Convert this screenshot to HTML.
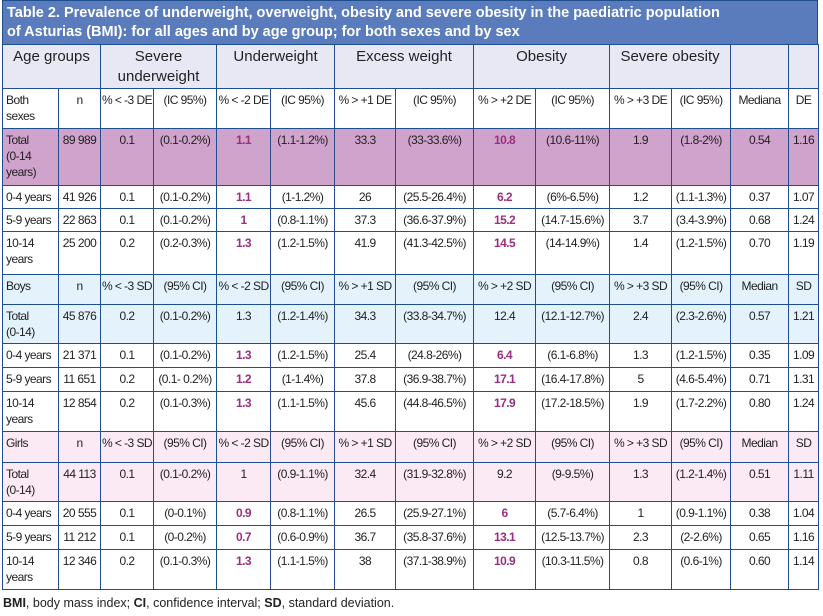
<!DOCTYPE html>
<html><head><meta charset="utf-8"><style>
body{margin:0;background:#fff;width:823px;height:616px;position:relative;font-family:"Liberation Sans","DejaVu Sans",sans-serif;overflow:hidden}
.title{position:absolute;left:2px;top:0;height:44px;background:#5a7cbc;color:#fff;font-weight:bold;font-size:14.5px;line-height:19px;padding:3px 0 0 4px;border:1px solid #1f4e8c;border-bottom:none;box-sizing:border-box;width:816px}
table{position:absolute;left:2px;top:44px;width:816px;border-collapse:collapse;table-layout:fixed;font-size:12px;letter-spacing:-0.55px;color:#222}
td{border:1.5px solid #1f4e8c;text-align:center;vertical-align:top;padding:3px 0 0 0;line-height:16px;overflow:hidden;white-space:nowrap}
td.l{text-align:left;padding-left:3px}
tr.h td{background:#e8e8f5;font-size:15px;letter-spacing:0;line-height:20px;padding-top:2px}
.b{color:#9b2f7f;font-weight:bold}
tr.t td{background:#cfa3cb}
tr.boy td{background:#e4f2fb}
tr.girl td{background:#fbe9f4}
.foot{position:absolute;left:3px;top:596px;font-size:12.5px;color:#222}
</style></head><body>
<div class="title">Table 2. Prevalence of underweight, overweight, obesity and severe obesity in the paediatric population<br>of Asturias (BMI): for all ages and by age group; for both sexes and by sex</div>
<table>
<colgroup><col style="width:56px"><col style="width:42px"><col style="width:53px"><col style="width:63px"><col style="width:54px"><col style="width:64px"><col style="width:61px"><col style="width:78px"><col style="width:62px"><col style="width:74px"><col style="width:62px"><col style="width:59px"><col style="width:58px"><col style="width:30px"></colgroup>
<tr class="h" style="height:44px"><td colspan="2">Age groups</td><td colspan="2">Severe<br>underweight</td><td colspan="2">Underweight</td><td colspan="2">Excess weight</td><td colspan="2">Obesity</td><td colspan="2">Severe obesity</td><td></td><td></td></tr>
<tr style="height:40px"><td class="l">Both<br>sexes</td><td>n</td><td>% &lt; -3 DE</td><td>(IC 95%)</td><td>% &lt; -2 DE</td><td>(IC 95%)</td><td>% &gt; +1 DE</td><td>(IC 95%)</td><td>% &gt; +2 DE</td><td>(IC 95%)</td><td>% &gt; +3 DE</td><td>(IC 95%)</td><td>Mediana</td><td>DE</td></tr>
<tr class="t" style="height:57px"><td class="l">Total<br>(0-14<br>years)</td><td>89 989</td><td>0.1</td><td>(0.1-0.2%)</td><td class="b">1.1</td><td>(1.1-1.2%)</td><td>33.3</td><td>(33-33.6%)</td><td class="b">10.8</td><td>(10.6-11%)</td><td>1.9</td><td>(1.8-2%)</td><td>0.54</td><td>1.16</td></tr>
<tr style="height:23px"><td class="l">0-4 years</td><td>41 926</td><td>0.1</td><td>(0.1-0.2%)</td><td class="b">1.1</td><td>(1-1.2%)</td><td>26</td><td>(25.5-26.4%)</td><td class="b">6.2</td><td>(6%-6.5%)</td><td>1.2</td><td>(1.1-1.3%)</td><td>0.37</td><td>1.07</td></tr>
<tr style="height:23px"><td class="l">5-9 years</td><td>22 863</td><td>0.1</td><td>(0.1-0.2%)</td><td class="b">1</td><td>(0.8-1.1%)</td><td>37.3</td><td>(36.6-37.9%)</td><td class="b">15.2</td><td>(14.7-15.6%)</td><td>3.7</td><td>(3.4-3.9%)</td><td>0.68</td><td>1.24</td></tr>
<tr style="height:43px"><td class="l">10-14<br>years</td><td>25 200</td><td>0.2</td><td>(0.2-0.3%)</td><td class="b">1.3</td><td>(1.2-1.5%)</td><td>41.9</td><td>(41.3-42.5%)</td><td class="b">14.5</td><td>(14-14.9%)</td><td>1.4</td><td>(1.2-1.5%)</td><td>0.70</td><td>1.19</td></tr>
<tr class="boy" style="height:30px"><td class="l">Boys</td><td>n</td><td>% &lt; -3 SD</td><td>(95% CI)</td><td>% &lt; -2 SD</td><td>(95% CI)</td><td>% &gt; +1 SD</td><td>(95% CI)</td><td>% &gt; +2 SD</td><td>(95% CI)</td><td>% &gt; +3 SD</td><td>(95% CI)</td><td>Median</td><td>SD</td></tr>
<tr class="boy" style="height:39px"><td class="l">Total<br>(0-14)</td><td>45 876</td><td>0.2</td><td>(0.1-0.2%)</td><td>1.3</td><td>(1.2-1.4%)</td><td>34.3</td><td>(33.8-34.7%)</td><td>12.4</td><td>(12.1-12.7%)</td><td>2.4</td><td>(2.3-2.6%)</td><td>0.57</td><td>1.21</td></tr>
<tr style="height:24px"><td class="l">0-4 years</td><td>21 371</td><td>0.1</td><td>(0.1-0.2%)</td><td class="b">1.3</td><td>(1.2-1.5%)</td><td>25.4</td><td>(24.8-26%)</td><td class="b">6.4</td><td>(6.1-6.8%)</td><td>1.3</td><td>(1.2-1.5%)</td><td>0.35</td><td>1.09</td></tr>
<tr style="height:24px"><td class="l">5-9 years</td><td>11 651</td><td>0.2</td><td>(0.1- 0.2%)</td><td class="b">1.2</td><td>(1-1.4%)</td><td>37.8</td><td>(36.9-38.7%)</td><td class="b">17.1</td><td>(16.4-17.8%)</td><td>5</td><td>(4.6-5.4%)</td><td>0.71</td><td>1.31</td></tr>
<tr style="height:40px"><td class="l">10-14<br>years</td><td>12 854</td><td>0.2</td><td>(0.1-0.3%)</td><td class="b">1.3</td><td>(1.1-1.5%)</td><td>45.6</td><td>(44.8-46.5%)</td><td class="b">17.9</td><td>(17.2-18.5%)</td><td>1.9</td><td>(1.7-2.2%)</td><td>0.80</td><td>1.24</td></tr>
<tr class="girl" style="height:31px"><td class="l">Girls</td><td>n</td><td>% &lt; -3 SD</td><td>(95% CI)</td><td>% &lt; -2 SD</td><td>(95% CI)</td><td>% &gt; +1 SD</td><td>(95% CI)</td><td>% &gt; +2 SD</td><td>(95% CI)</td><td>% &gt; +3 SD</td><td>(95% CI)</td><td>Median</td><td>SD</td></tr>
<tr class="girl" style="height:39px"><td class="l">Total<br>(0-14)</td><td>44 113</td><td>0.1</td><td>(0.1-0.2%)</td><td>1</td><td>(0.9-1.1%)</td><td>32.4</td><td>(31.9-32.8%)</td><td>9.2</td><td>(9-9.5%)</td><td>1.3</td><td>(1.2-1.4%)</td><td>0.51</td><td>1.11</td></tr>
<tr style="height:24px"><td class="l">0-4 years</td><td>20 555</td><td>0.1</td><td>(0-0.1%)</td><td class="b">0.9</td><td>(0.8-1.1%)</td><td>26.5</td><td>(25.9-27.1%)</td><td class="b">6</td><td>(5.7-6.4%)</td><td>1</td><td>(0.9-1.1%)</td><td>0.38</td><td>1.04</td></tr>
<tr style="height:24px"><td class="l">5-9 years</td><td>11 212</td><td>0.1</td><td>(0-0.2%)</td><td class="b">0.7</td><td>(0.6-0.9%)</td><td>36.7</td><td>(35.8-37.6%)</td><td class="b">13.1</td><td>(12.5-13.7%)</td><td>2.3</td><td>(2-2.6%)</td><td>0.65</td><td>1.16</td></tr>
<tr style="height:40px"><td class="l">10-14<br>years</td><td>12 346</td><td>0.2</td><td>(0.1-0.3%)</td><td class="b">1.3</td><td>(1.1-1.5%)</td><td>38</td><td>(37.1-38.9%)</td><td class="b">10.9</td><td>(10.3-11.5%)</td><td>0.8</td><td>(0.6-1%)</td><td>0.60</td><td>1.14</td></tr>
</table>
<div class="foot"><b>BMI</b>, body mass index; <b>CI</b>, confidence interval; <b>SD</b>, standard deviation.</div>
</body></html>
